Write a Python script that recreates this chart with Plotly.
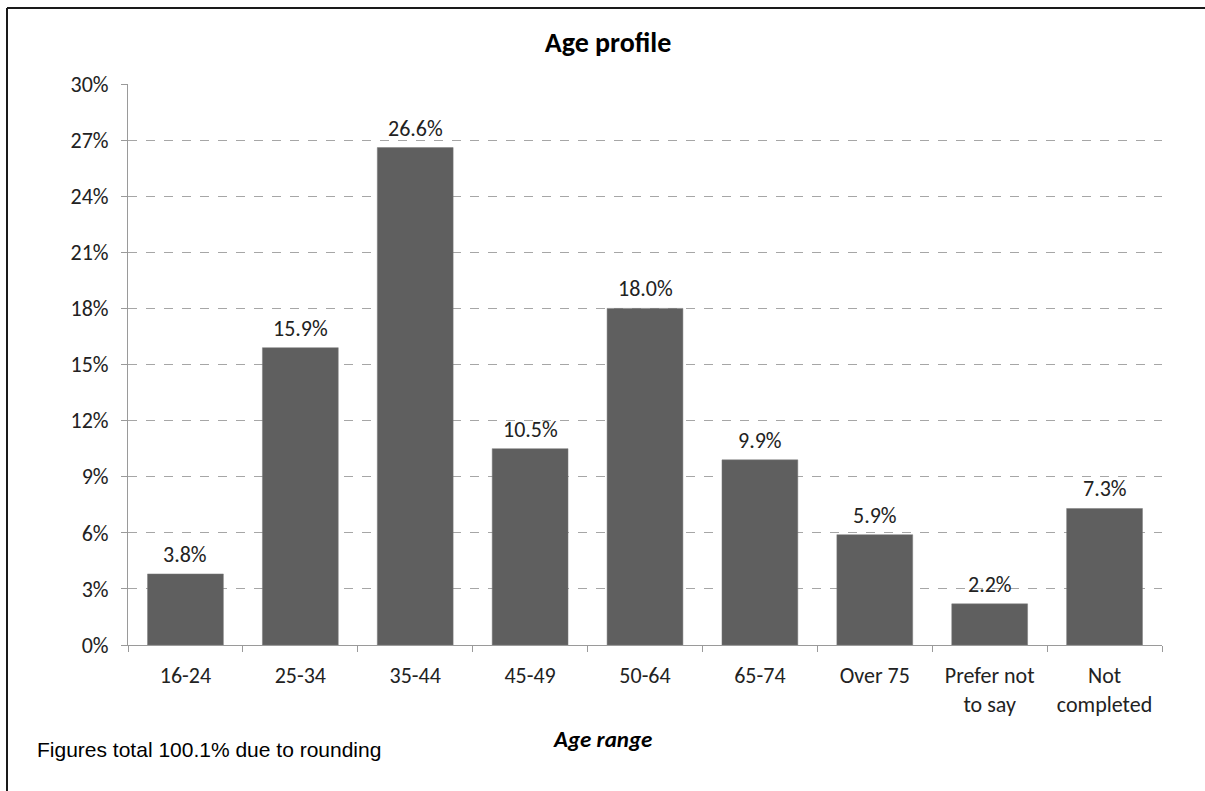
import plotly.graph_objects as go

categories = ["16-24", "25-34", "35-44", "45-49", "50-64", "65-74", "Over 75", "Prefer not<br>to say", "Not<br>completed"]
values = [3.8, 15.9, 26.6, 10.5, 18.0, 9.9, 5.9, 2.2, 7.3]
y_ticks = [0, 3, 6, 9, 12, 15, 18, 21, 24, 27, 30]
y_tick_labels = [f"{v}%" for v in y_ticks]

W, H = 1205, 791
L, R, T, B = 128, 43, 84, 146
pw, ph = W - L - R, H - T - B

def px_x(x):
    return (x - L) / pw

def px_y(y):
    return (H - B - y) / ph

FONT = "Carlito, Calibri, Lato, sans-serif"
FS = 22

fig = go.Figure(go.Bar(
    x=categories,
    y=values,
    marker=dict(color="#5f5f5f", line=dict(color="#7a7a7a", width=0.5)),
    cliponaxis=False,
    hoverinfo="skip",
))

fig.update_layout(
    width=W, height=H,
    margin=dict(l=L, r=R, t=T, b=B),
    paper_bgcolor="white", plot_bgcolor="white",
    bargap=0.34,
    showlegend=False,
    title=dict(text="<b>Age profile</b>", x=608 / W, xref="container", xanchor="center",
               y=1 - 42 / H, yref="container", yanchor="middle",
               font=dict(family=FONT, size=28, color="#000000")),
    xaxis=dict(
        showline=True, linecolor="#9a9a9a", linewidth=1,
        ticks="outside", tickson="boundaries", ticklen=6, tickcolor="#9a9a9a",
        tickfont=dict(family=FONT, size=FS, color="#222222"),
        ticklabelstandoff=11,
        showgrid=False,
    ),
    yaxis=dict(
        range=[0, 30],
        tickvals=y_ticks, ticktext=y_tick_labels,
        showline=True, linecolor="#9a9a9a", linewidth=1,
        ticks="outside", ticklen=6, tickcolor="#9a9a9a",
        tickfont=dict(family=FONT, size=FS, color="#222222"),
        ticklabelstandoff=8,
        showgrid=True, gridcolor="#a6a6a6", griddash="dash", gridwidth=1,
        zeroline=False,
    ),
    shapes=[
        dict(type="line", xref="paper", yref="paper", x0=px_x(7), x1=px_x(7), y0=px_y(8), y1=px_y(800),
             line=dict(color="#1a1a1a", width=2)),
        dict(type="line", xref="paper", yref="paper", x0=px_x(7), x1=px_x(1210), y0=px_y(8), y1=px_y(8),
             line=dict(color="#1a1a1a", width=2)),
    ],
)

fig.add_annotation(text="<b><i>Age range</i></b>", x=px_x(602), y=px_y(739), xref="paper", yref="paper",
                   xanchor="center", yanchor="middle", showarrow=False,
                   font=dict(family=FONT, size=23, color="#000000"))
fig.add_annotation(text="Figures total 100.1% due to rounding", x=px_x(35), y=px_y(749), xref="paper", yref="paper",
                   xanchor="left", yanchor="middle", showarrow=False,
                   font=dict(family="Liberation Sans, Arial, sans-serif", size=21, color="#000000"))

for c, v in zip(categories, values):
    fig.add_annotation(x=c, y=v, xref="x", yref="y", text=f"{v:.1f}%", showarrow=False,
                       yanchor="bottom", yshift=4,
                       font=dict(family=FONT, size=FS, color="#222222"))

fig.write_html("out.html", config={"displayModeBar": False},
               post_script="document.body.style.margin='0';document.body.style.overflow='hidden';")
